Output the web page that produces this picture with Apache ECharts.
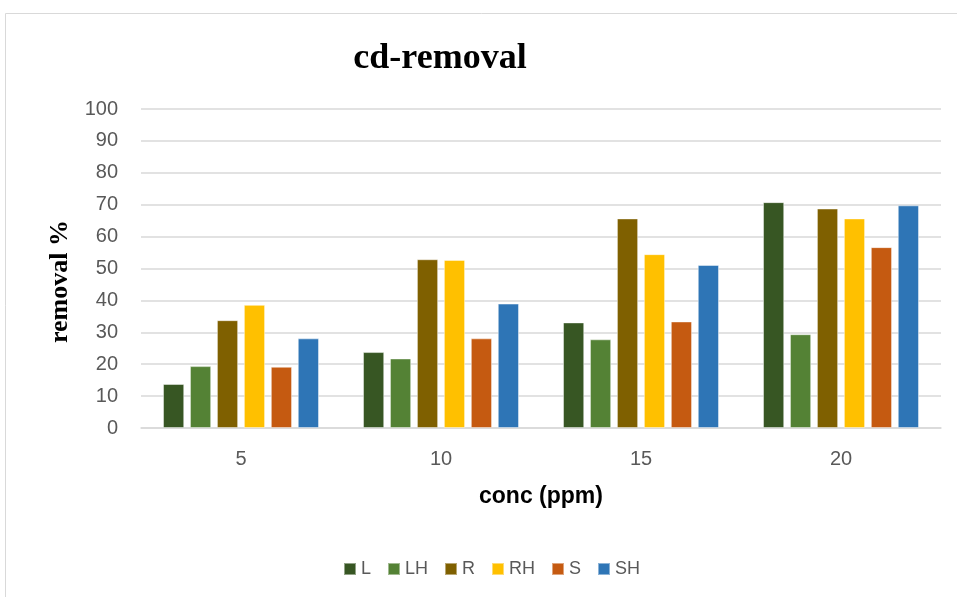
<!DOCTYPE html>
<html><head><meta charset="utf-8">
<script src="https://cdn.jsdelivr.net/npm/echarts@6/dist/echarts.min.js"></script>
<style>html,body{margin:0;padding:0;background:#fff}#c{width:957px;height:597px}</style>
</head><body><div id="c"></div>
<script>
const categories = ['5', '10', '15', '20'];
const seriesNames = ['L', 'LH', 'R', 'RH', 'S', 'SH'];
const L  = [13.8, 23.8, 33.1, 70.8];
const LH = [19.4, 21.8, 27.8, 29.4];
const R  = [33.8, 52.9, 65.7, 68.8];
const RH = [38.6, 52.7, 54.5, 65.7];
const S  = [19.2, 28.1, 33.4, 56.7];
const SH = [28.1, 39.0, 51.1, 69.8];
const colors = ['#375623', '#548235', '#7F6000', '#FFC000', '#C55A11', '#2E75B6'];
const values = [L, LH, R, RH, S, SH];

const chart = echarts.init(document.getElementById('c'));
chart.setOption({
  animation: false,
  graphic: [{type: 'rect', shape: {x: 5.5, y: 13.5, width: 1000, height: 1000}, style: {fill: 'none', stroke: '#d9d9d9', lineWidth: 1}}],
  title: {text: 'cd-removal', left: 435, top: 36, textAlign: 'center',
    textStyle: {fontFamily: 'Liberation Serif', fontWeight: 'bold', fontSize: 36, color: '#000'}},
  legend: {data: seriesNames, bottom: 14, left: 338, itemWidth: 12, itemHeight: 12, itemGap: 16,
    icon: 'rect', textStyle: {fontFamily: 'Liberation Sans', fontSize: 18, color: '#595959'}},
  grid: {left: 141, right: 16, top: 109, bottom: 169},
  xAxis: {type: 'category', data: categories,
    name: 'conc (ppm)', nameLocation: 'middle', nameGap: 57,
    nameTextStyle: {fontFamily: 'Liberation Sans', fontWeight: 'bold', fontSize: 23, color: '#000'},
    axisLine: {lineStyle: {color: '#d9d9d9', width: 1.5}}, axisTick: {show: false},
    axisLabel: {fontFamily: 'Liberation Sans', fontSize: 20, color: '#595959', margin: 21}},
  yAxis: {type: 'value', min: 0, max: 100, interval: 10,
    name: 'removal %', nameLocation: 'middle', nameGap: 63, nameRotate: 90,
    nameTextStyle: {fontFamily: 'Liberation Serif', fontWeight: 'bold', fontSize: 26, color: '#000', padding: [0, 26, 0, 0]},
    axisLine: {show: false}, axisTick: {show: false},
    splitLine: {lineStyle: {color: '#d9d9d9', width: 1.5}},
    axisLabel: {fontFamily: 'Liberation Sans', fontSize: 20, color: '#595959', margin: 23}},
  series: seriesNames.map((n, i) => ({
    name: n, type: 'bar', data: values[i], barGap: '27%', barCategoryGap: '22%',
    itemStyle: {color: colors[i], borderColor: 'rgba(255,255,255,0.45)', borderWidth: 1}
  }))
});
</script></body></html>
